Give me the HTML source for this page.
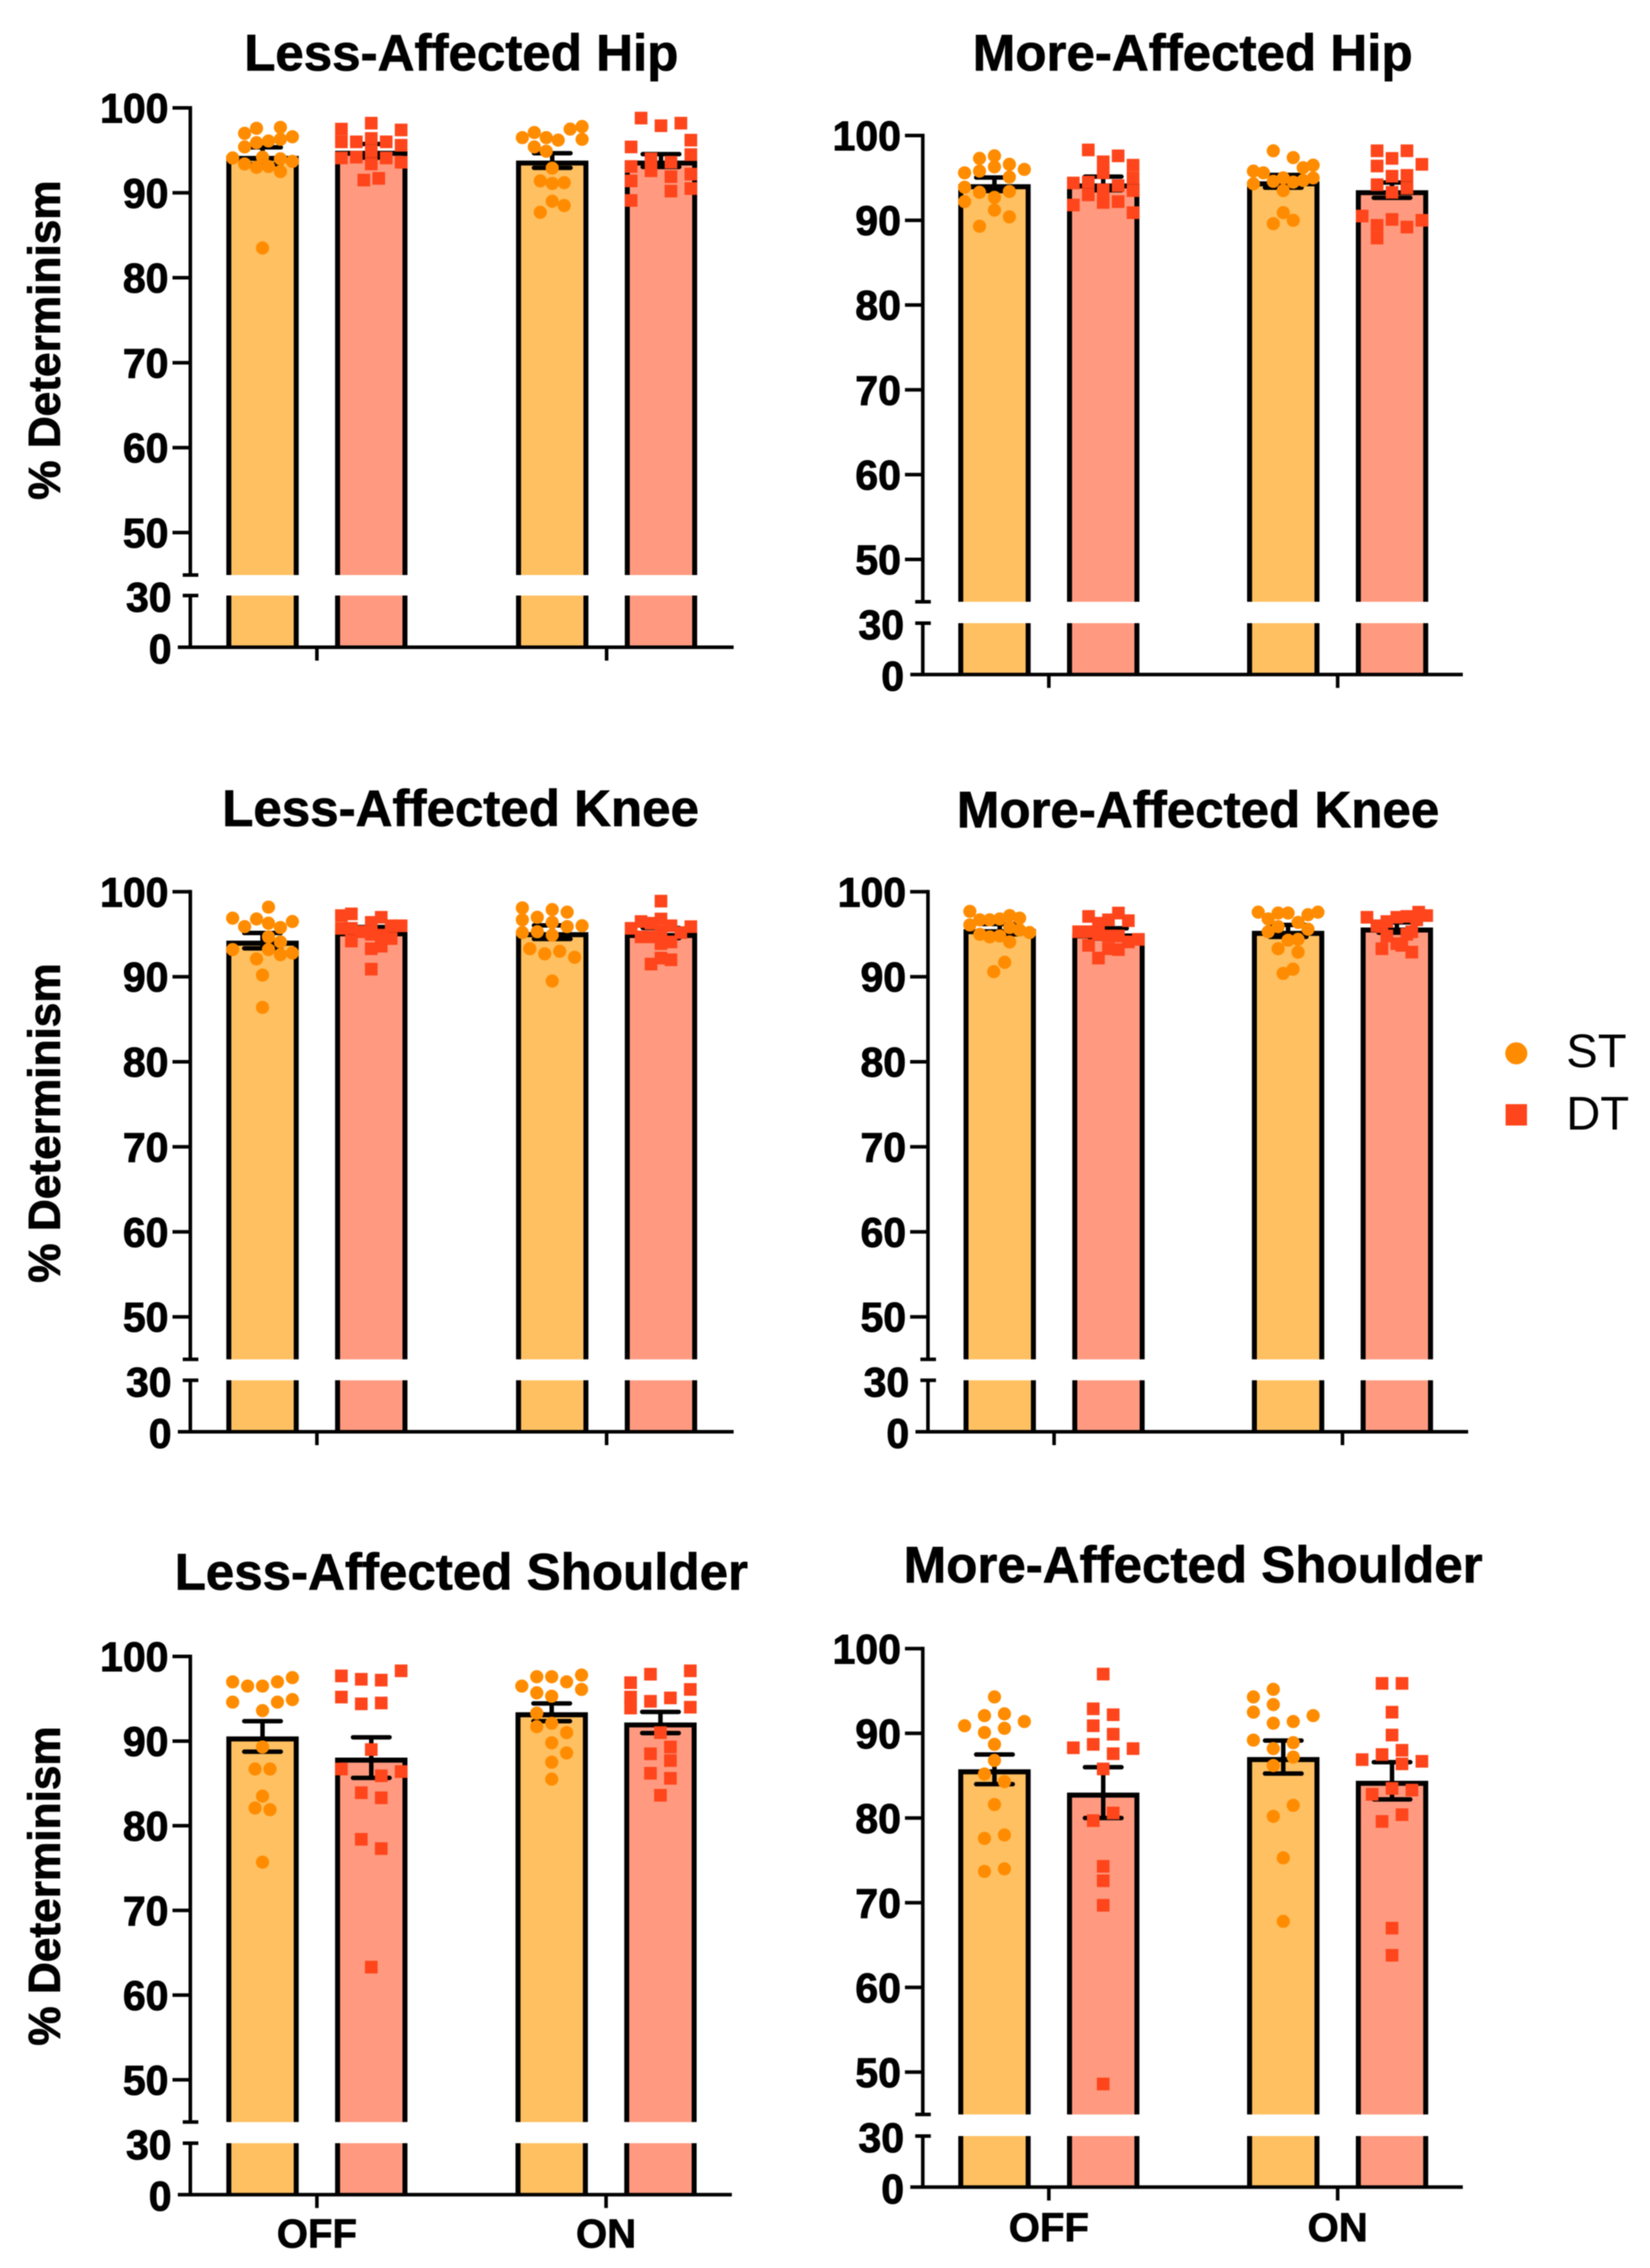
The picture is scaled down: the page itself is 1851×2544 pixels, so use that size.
<!DOCTYPE html>
<html lang="en">
<head>
<meta charset="utf-8">
<title>Percent Determinism by Joint, Medication State and Task</title>
<style>
html,body{margin:0;padding:0;background:#fff;}
body{width:1851px;height:2544px;overflow:hidden;}
svg{display:block;font-family:"Liberation Sans",Arial,sans-serif;filter:blur(0.5px);}
</style>
</head>
<body>
<svg id="chart" xmlns="http://www.w3.org/2000/svg" width="1851" height="2544" viewBox="0 0 1851 2544">
  <rect width="1851" height="2544" fill="#ffffff"/>
  <g>
    <circle cx="1701" cy="1181.5" r="12.4" fill="#FF8C00"/>
    <text x="1757" y="1197" font-size="53" fill="#000">ST</text>
    <rect x="1689" y="1238.5" width="24" height="24" fill="#FF451B"/>
    <text x="1757" y="1267" font-size="53" fill="#000">DT</text>
  </g>
</svg>
<script>
/* ---------- shared axis data ---------- */
const categories = ['OFF', 'ON'];
const seriesNames = ['ST', 'DT'];
const upperTicks = [50, 60, 70, 80, 90, 100];
const lowerTicks = [0, 30];
const axisBreak = [30, 45];
const yTitle = '% Determinism';

/* ---------- bar means, order: ST OFF, DT OFF, ST ON, DT ON ---------- */
const lessHipMeans = [94.35, 94.95, 93.8, 93.8];
const lessHipSems = [1.0, 0.8, 0.86, 0.75];
const moreHipMeans = [94.25, 94.35, 94.6, 93.55];
const moreHipSems = [0.8, 0.8, 0.75, 0.9];
const lessKneeMeans = [94.25, 95.35, 95.25, 95.15];
const lessKneeSems = [0.9, 0.5, 0.8, 0.6];
const moreKneeMeans = [95.6, 95.1, 95.4, 95.8];
const moreKneeSems = [0.6, 0.6, 0.7, 0.6];
const lessShoulderMeans = [90.55, 88.05, 93.4, 92.2];
const lessShoulderSems = [1.8, 2.4, 1.05, 1.25];
const moreShoulderMeans = [85.75, 83.0, 87.2, 84.4];
const moreShoulderSems = [1.75, 3.0, 1.95, 2.2];

/* ---------- individual participant values ---------- */
const lessHipValues = [
  [97.6,97.7,97.0,96.6,96.3,96.1,95.9,95.4,94.1,94.2,94.0,93.7,93.4,93.0,93.1,92.5,83.5],
  [97.5,97.4,98.2,96.0,96.0,96.4,96.0,95.6,94.9,94.1,94.2,94.1,93.6,93.4,91.5,91.7],
  [96.5,97.1,96.5,96.2,97.5,97.8,96.3,95.4,94.9,92.9,91.4,91.1,91.2,89.0,88.5,87.7],
  [98.8,97.9,98.2,96.2,95.4,94.5,94.0,93.6,93.1,92.6,92.2,91.9,91.4,90.5,90.2,89.1]
];
const moreHipValues = [
  [97.6,97.3,96.6,96.3,96.0,95.6,95.8,95.1,93.9,93.3,93.4,92.7,92.2,91.2,90.4,89.3],
  [98.3,97.6,96.9,96.5,95.6,95.0,94.4,94.5,94.1,93.5,93.6,93.0,92.1,92.2,91.8,90.9],
  [98.2,97.4,96.5,96.2,95.8,95.6,95.0,94.6,94.5,94.7,95.0,94.3,93.5,90.9,89.6,90.0],
  [98.2,98.2,97.3,96.6,96.4,95.2,95.3,94.2,93.8,93.3,90.5,90.1,90.0,89.4,89.2,87.9]
];
const lessKneeValues = [
  [98.2,96.9,96.8,96.5,96.3,95.9,95.8,94.7,94.1,93.2,93.2,92.8,92.6,92.1,90.2,86.4],
  [97.2,97.4,97.0,96.4,96.0,96.0,95.7,95.7,95.3,95.0,94.9,94.5,94.2,93.6,93.3,90.9],
  [98.1,97.9,97.6,97.0,96.7,96.4,96.0,95.9,95.2,95.3,94.9,93.3,92.7,93.0,92.3,89.5],
  [98.9,96.8,96.5,95.7,96.0,95.9,96.3,95.2,95.3,94.7,94.7,94.1,93.9,92.2,92.0,91.5]
];
const moreKneeValues = [
  [97.7,96.7,96.7,96.8,97.2,96.9,96.1,95.8,95.5,95.2,95.0,94.7,94.8,94.1,91.7,90.6],
  [97.1,97.5,96.7,96.6,96.3,95.3,95.3,95.0,94.8,94.8,94.4,94.1,93.7,93.3,93.2,92.2],
  [97.6,97.5,97.5,97.6,97.3,96.8,96.4,95.9,95.6,95.3,94.3,94.4,93.3,92.9,90.9,90.4],
  [97.0,97.6,97.2,97.1,97.0,96.5,96.0,96.7,95.9,95.3,94.8,95.0,93.9,93.7,93.3,92.9]
];
const lessShoulderValues = [
  [97.0,96.5,96.5,97.0,97.5,94.6,94.6,94.9,93.6,89.3,86.7,86.7,83.5,82.1,81.9,75.7],
  [97.7,97.3,97.2,98.3,95.2,94.4,94.5,89.0,86.7,86.4,85.9,83.9,83.3,78.4,77.3,63.3],
  [97.6,97.6,97.8,96.5,97.0,95.7,96.1,95.3,93.3,92.1,91.7,91.0,89.8,88.6,87.5,85.5],
  [97.9,98.3,96.9,96.1,95.2,94.7,95.1,93.9,94.0,91.0,89.3,88.5,87.7,86.2,85.6,83.6]
];
const moreShoulderValues = [
  [94.3,92.1,92.3,90.9,91.4,90.1,90.6,88.7,86.8,85.2,84.3,81.6,77.6,78.0,73.7,74.0],
  [97.0,92.9,92.2,90.9,89.9,88.7,88.3,88.2,87.6,85.8,80.6,79.7,74.3,72.6,69.7,48.6],
  [95.2,94.3,93.4,92.5,92.1,91.2,91.4,89.2,88.9,88.2,87.2,86.2,81.5,80.2,75.3,67.8],
  [95.9,95.9,92.5,89.8,88.0,87.5,86.9,86.7,86.4,83.5,83.3,82.8,80.4,79.6,67.0,63.8]
];

/* ---------- swarm column index of each participant (unitless) ---------- */
const lessHipSwarm = [
  [-1,3,-3,5,3,1,-1,-3,-5,0,3,5,-3,-1,1,3,0],
  [-5,5,0,-5,-2.5,0,2.5,5,0,-5,-2.5,2.5,5,0,-1.25,1.25],
  [-5,-3,-1,1,3,5,5,-3,-1,0,-2,0,2,0,2,-2],
  [-3.33,0,3.33,5,-5,5,-1.67,1.67,-5,-1.67,5,1.67,-5,5,1.67,-5]
];
const moreHipSwarm = [
  [0,-2.5,2.5,0,5,-5,-2.5,2.5,-5,-2.5,2.5,0,-5,0,2.5,-2.5],
  [-2.5,2.5,0,5,0,5,-5,-2.5,2.5,5,0,-2.5,0,2.5,-5,5],
  [-1.67,1.67,5,3.33,-5,-3.33,0,-1.67,1.67,3.33,5,-5,0,0,-1.67,1.67],
  [-2.5,2.5,0,5,-2.5,0,2.5,-2.5,2.5,0,-5,0,5,-2.5,2.5,-2.5]
];
const lessKneeSwarm = [
  [1,-5,-1,5,1,-3,3,1,3,-5,1,5,3,-1,0,0],
  [-5,-3.33,1.67,0,3.33,5,-5,-3.33,-1.67,0,1.67,3.33,-3.33,1.67,0,0],
  [-5,0,2.5,-2.5,-5,0,5,2.5,-5,-2.5,0,-3.75,-1.25,1.25,3.75,0],
  [0,0,-3.33,-5,1.67,5,-1.67,3.33,0,-3.33,-1.67,1.67,0,0,1.67,-1.67]
];
const moreKneeSwarm = [
  [-5,-3.33,-1.67,0,1.67,3.33,-5,1.67,3.33,5,-3.33,-1.67,0,1.67,0.83,-1],
  [-3.33,1.67,0,3.33,-1.67,-5,-3.33,-1.67,0,1.67,5,3.33,-3.33,0,1.67,-1.67],
  [-5,-1.67,0,5,3.33,-3.33,1.67,-1.67,3.33,-3.33,0,1.67,-1.67,1.67,0.83,-0.83],
  [-5,3.66,5,1.67,0,-1.67,-3.33,3.33,-2.5,2.5,-1.67,1.67,0,0.83,-2.5,2.5]
];
const lessShoulderSwarm = [
  [-5,-2.5,0,2.5,5,-5,2.5,5,0,0,-1.25,1.25,0,-1.25,1.25,0],
  [-5,-1.67,1.67,5,-5,-1.67,1.67,0,-5,5,1.67,-1.67,1.67,-1.67,1.67,0],
  [-2.5,0,5,-5,2.5,-2.5,5,0,-2.5,0,-2.5,2.5,0,2.5,0,0],
  [-1.67,5,-5,5,-5,-1.67,1.67,-5,5,0,1.67,-1.67,1.67,-1.67,1.67,0]
];
const moreShoulderSwarm = [
  [0,-1.67,1.67,-5,5,-1.67,1.67,0,0,-1.67,1.67,0,-1.67,1.67,-1.67,1.67],
  [0,-1.67,1.67,-1.67,1.67,-1.67,-5,5,1.67,0,1.67,-1.67,0,0,0,0],
  [-1.67,-5,-1.67,-5,5,-1.67,1.67,-5,1.67,-1.67,1.67,-1.67,1.67,-1.67,0,0],
  [-1.67,1.67,0,0,1.67,-1.67,-5,5,1.67,0,3.33,-3.33,1.67,-1.67,0,0]
];

/* ---------- panel descriptions ---------- */
const panels = [
  {key:'less-affected-hip', title:'Less-Affected Hip', means:lessHipMeans, sems:lessHipSems, values:lessHipValues, swarm:lessHipSwarm},
  {key:'more-affected-hip', title:'More-Affected Hip', means:moreHipMeans, sems:moreHipSems, values:moreHipValues, swarm:moreHipSwarm},
  {key:'less-affected-knee', title:'Less-Affected Knee', means:lessKneeMeans, sems:lessKneeSems, values:lessKneeValues, swarm:lessKneeSwarm},
  {key:'more-affected-knee', title:'More-Affected Knee', means:moreKneeMeans, sems:moreKneeSems, values:moreKneeValues, swarm:moreKneeSwarm},
  {key:'less-affected-shoulder', title:'Less-Affected Shoulder', means:lessShoulderMeans, sems:lessShoulderSems, values:lessShoulderValues, swarm:lessShoulderSwarm},
  {key:'more-affected-shoulder', title:'More-Affected Shoulder', means:moreShoulderMeans, sems:moreShoulderSems, values:moreShoulderValues, swarm:moreShoulderSwarm}
];

/* ---------- page layout, one entry per panel ---------- */
const layouts = [
  {axisX:213.5, y100:121, y45:645, y30:668, y0:726, group:[142,467], spread:61, endX:823, titleX:517.5, titleY:79, yTitleY:381.5},
  {axisX:1035.2, y100:152, y45:675, y30:699, y0:756.6, group:[141.4,465.4], spread:61, endX:1641, titleX:1338, titleY:79},
  {axisX:213.5, y100:1000.3, y45:1524.8, y30:1548.3, y0:1606, group:[142,467], spread:61, endX:823, titleX:516.7, titleY:926.3, yTitleY:1259.7},
  {axisX:1041, y100:1000.3, y45:1524.8, y30:1548.3, y0:1606, group:[141.5,465], spread:61, endX:1647, titleX:1344, titleY:928},
  {axisX:213.5, y100:1858, y45:2380.3, y30:2404, y0:2461.7, group:[142,466.4], spread:61, endX:821, titleX:517.5, titleY:1783, yTitleY:2115.5, labelY:2521},
  {axisX:1035.2, y100:1849.3, y45:2371.8, y30:2396, y0:2453.3, group:[141.4,465.4], spread:61, endX:1641, titleX:1338.5, titleY:1775, labelY:2514}
];

const fills = ['#FFC061', '#FF9A80'];
const markerColors = ['#FF8C00', '#FF451B'];
const BAR_WIDTH = 75.6;
const BAR_STROKE = 5.6;
const SWARM_STEP = 6.7;
const SVG_NS = 'http://www.w3.org/2000/svg';
const chart = document.getElementById('chart');

function make(tag, attrs, parent, text) {
  const el = document.createElementNS(SVG_NS, tag);
  Object.keys(attrs).forEach(function (k) { el.setAttribute(k, attrs[k]); });
  if (text !== undefined) el.textContent = text;
  parent.appendChild(el);
  return el;
}

function upperScale(L) {
  return function (v) {
    return L.y100 + (100 - v) * (L.y45 - L.y100) / (100 - axisBreak[1]);
  };
}
function lowerScale(L) {
  return function (v) {
    return L.y0 - v * (L.y0 - L.y30) / axisBreak[0];
  };
}
function xScale(L, catIndex, seriesIndex) {
  const c = L.axisX + L.group[catIndex];
  return c + (seriesIndex === 0 ? -L.spread : L.spread);
}

panels.forEach(function (panel, p) {
  const L = layouts[p];
  const yU = upperScale(L);
  const yL = lowerScale(L);

  const g = make('g', {}, chart);
  
  

  const title = make('text', {x:L.titleX, y:L.titleY, 'text-anchor':'middle', 'font-size':57.3, 'font-weight':'bold', fill:'#000', stroke:'#000', 'stroke-width':0.8}, g, panel.title);
  
  

  if (L.yTitleY !== undefined) {
    const yt = make('text', {transform:'translate(66.8,' + L.yTitleY + ') rotate(-90)', 'text-anchor':'middle', 'font-size':49.6, 'font-weight':'bold', fill:'#000', stroke:'#000', 'stroke-width':1}, g, yTitle);
    
    
  }

  /* bars: two segments separated by the axis break */
  categories.forEach(function (cat, c) {
    seriesNames.forEach(function (ser, s) {
      const idx = c * 2 + s;
      const cx = xScale(L, c, s);
      const left = cx - BAR_WIDTH / 2;
      const right = cx + BAR_WIDTH / 2;
      const top = yU(panel.means[idx]) + BAR_STROKE / 2;
      const name = cat.toLowerCase() + '-' + ser.toLowerCase();

      const barGroup = make('g', {}, g);
      
      

      const upperFill = make('rect', {x:left, y:top, width:BAR_WIDTH, height:yU(axisBreak[1]) - top, fill:fills[s]}, barGroup);
      
      

      const lowerFill = make('rect', {x:left, y:yL(axisBreak[0]), width:BAR_WIDTH, height:yL(0) - yL(axisBreak[0]), fill:fills[s]}, barGroup);
      
      

      const upperEdge = make('path', {d:'M' + left + ' ' + yU(axisBreak[1]) + 'V' + top + 'H' + right + 'V' + yU(axisBreak[1]), fill:'none', stroke:'#000', 'stroke-width':BAR_STROKE}, barGroup);
      
      

      const lowerEdge = make('path', {d:'M' + left + ' ' + yL(axisBreak[0]) + 'V' + yL(0) + 'M' + right + ' ' + yL(axisBreak[0]) + 'V' + yL(0), fill:'none', stroke:'#000', 'stroke-width':BAR_STROKE}, barGroup);
      
      

      /* error bar (mean +/- SEM) */
      const hi = yU(panel.means[idx] + panel.sems[idx]);
      const lo = yU(panel.means[idx] - panel.sems[idx]);
      const err = make('path', {d:'M' + (cx - 20.5) + ' ' + hi + 'H' + (cx + 20.5) + 'M' + cx + ' ' + hi + 'V' + lo + 'M' + (cx - 20.5) + ' ' + lo + 'H' + (cx + 20.5), fill:'none', stroke:'#000', 'stroke-width':5, 'stroke-linecap':'round'}, barGroup);
      
      

      /* individual points */
      panel.values[idx].forEach(function (v, i) {
        const px = cx + panel.swarm[idx][i] * SWARM_STEP;
        const py = yU(v);
        let mark;
        if (s === 0) {
          mark = make('circle', {cx:px, cy:py, r:7.4, fill:markerColors[s]}, barGroup);
        } else {
          mark = make('rect', {x:px - 7.1, y:py - 7.1, width:14.2, height:14.2, fill:markerColors[s]}, barGroup);
        }
        
        
      });
    });
  });

  /* y axis */
  const axisUpper = make('line', {x1:L.axisX, x2:L.axisX, y1:yU(100) - 2, y2:yU(axisBreak[1]), stroke:'#000', 'stroke-width':4}, g);
  
  

  const axisLower = make('line', {x1:L.axisX, x2:L.axisX, y1:yL(axisBreak[0]), y2:yL(0), stroke:'#000', 'stroke-width':4}, g);
  
  

  const breakTop = make('line', {x1:L.axisX - 8.5, x2:L.axisX + 9, y1:yU(axisBreak[1]), y2:yU(axisBreak[1]), stroke:'#000', 'stroke-width':4}, g);
  
  

  upperTicks.forEach(function (t) {
    const tick = make('line', {x1:L.axisX - 20, x2:L.axisX, y1:yU(t), y2:yU(t), stroke:'#000', 'stroke-width':4}, g);
    
    
    const label = make('text', {x:L.axisX - 24.5, y:yU(t) + 16.5, 'text-anchor':'end', 'font-size':46, 'font-weight':'bold', fill:'#000', stroke:'#000', 'stroke-width':1}, g, String(t));
    
    
  });

  lowerTicks.forEach(function (t) {
    if (t > 0) {
      const tick = make('line', {x1:L.axisX - 8.5, x2:L.axisX + 9, y1:yL(t), y2:yL(t), stroke:'#000', 'stroke-width':4}, g);
      
      
    }
    const label = make('text', {x:L.axisX - 21, y:yL(t) + 18, 'text-anchor':'end', 'font-size':46, 'font-weight':'bold', fill:'#000', stroke:'#000', 'stroke-width':1}, g, String(t));
    
    
  });

  /* x axis */
  const baseline = make('line', {x1:L.axisX - 14, x2:L.endX, y1:L.y0, y2:L.y0, stroke:'#000', 'stroke-width':4}, g);
  
  

  categories.forEach(function (cat, c) {
    const tx = L.axisX + L.group[c];
    const tick = make('line', {x1:tx, x2:tx, y1:L.y0, y2:L.y0 + 15, stroke:'#000', 'stroke-width':4}, g);
    
    
    if (L.labelY !== undefined) {
      const lbl = make('text', {x:tx, y:L.labelY, 'text-anchor':'middle', 'font-size':45, 'font-weight':'bold', fill:'#000', stroke:'#000', 'stroke-width':0.8}, g, cat);
      
      
    }
  });
});
</script>
</body>
</html>
